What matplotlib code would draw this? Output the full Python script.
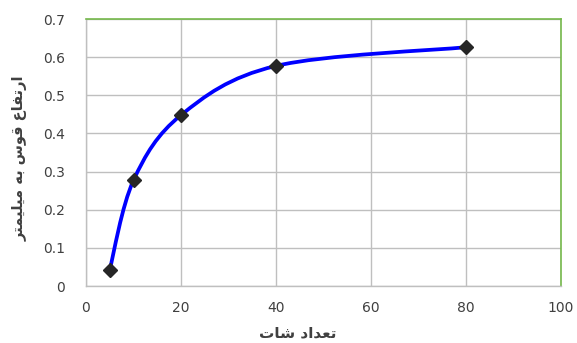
import numpy as np
import matplotlib.pyplot as plt
from matplotlib.path import Path
from matplotlib.patches import PathPatch

# ─── Data ─────────────────────────────────────────────────────────────────────

shots     = [5, 10, 20, 40, 80]
height_mm = [0.043, 0.277, 0.448, 0.577, 0.626]

x_ticks = [0, 20, 40, 60, 80, 100]
y_ticks = [0, 0.1, 0.2, 0.3, 0.4, 0.5, 0.6, 0.7]
y_tick_labels = ["0", "0.1", "0.2", "0.3", "0.4", "0.5", "0.6", "0.7"]

# Persian labels, pre-shaped (presentation forms) and in visual order
X_LABEL = "\uFE95\uFE8E\uFEB7 \uFEA9\uFE8D\uFEAA\uFECC\uFE97"          # تعداد شات
Y_LABEL = ("\uFEAE\uFE98\uFEE4\uFBFF\uFEE0\uFBFF\uFEE3 "                # میلیمتر
           "\uFEEA\uFE91 "                                              # به
           "\uFEB1\uFEEE\uFED7 "                                        # قوس
           "\uFEC9\uFE8E\uFED4\uFE97\uFEAD\uFE8D")                      # ارتفاع

# ─── Style ────────────────────────────────────────────────────────────────────

GRID_COLOR   = "#bfbfbf"
BORDER_GREEN = "#74b84a"
LINE_BLUE    = "#0000ff"
MARKER_COLOR = "#262626"
TEXT_COLOR   = "#404040"

plt.rcParams["font.family"] = ["DejaVu Sans"]

fig = plt.figure(figsize=(5.77, 3.43), dpi=100)
ax = fig.add_axes([86 / 577, 1 - 286 / 343, 475 / 577, 267 / 343])

ax.set_xlim(0, 100)
ax.set_ylim(0, 0.7)
ax.set_xticks(x_ticks)
ax.set_yticks(y_ticks)
ax.set_yticklabels(y_tick_labels)
ax.tick_params(length=0, labelsize=10, colors=TEXT_COLOR)
ax.tick_params(axis="y", pad=15)
ax.tick_params(axis="x", pad=11)

ax.grid(True, color=GRID_COLOR, linewidth=1.0, zorder=0)
ax.set_axisbelow(True)
for side in ["left", "bottom"]:
    ax.spines[side].set_color(GRID_COLOR)
    ax.spines[side].set_linewidth(1.0)
for side in ["top", "right"]:
    ax.spines[side].set_color(BORDER_GREEN)
    ax.spines[side].set_linewidth(1.2)

# ─── Smoothed line (Catmull-Rom bezier in screen space) ───────────────────────

pts = ax.transData.transform(np.column_stack([shots, height_mm]))
n = len(pts)
verts = [pts[0]]
codes = [Path.MOVETO]
for i in range(n - 1):
    p_prev = pts[max(i - 1, 0)]
    p0, p1 = pts[i], pts[i + 1]
    p_next = pts[min(i + 2, n - 1)]
    c1 = p0 + (p1 - p_prev) / 6.0
    c2 = p1 - (p_next - p0) / 6.0
    verts += [c1, c2, p1]
    codes += [Path.CURVE4] * 3
verts = ax.transData.inverted().transform(np.array(verts))
curve = PathPatch(Path(verts, codes), facecolor="none", edgecolor=LINE_BLUE,
                  linewidth=2.7, zorder=2, capstyle="round")
ax.add_patch(curve)

ax.plot(shots, height_mm, linestyle="none", marker="D", markersize=7,
        color=MARKER_COLOR, zorder=3, clip_on=False)

# ─── Labels ───────────────────────────────────────────────────────────────────

fig.text(298 / 577, 1 - 333 / 343, X_LABEL, ha="center", va="center",
         fontsize=11, fontweight="bold", color=TEXT_COLOR)
fig.text(20 / 577, 1 - 158 / 343, Y_LABEL, ha="center", va="center",
         rotation=90, fontsize=10.5, fontweight="bold", color=TEXT_COLOR)

fig.savefig("out.png", dpi=100, facecolor="white")
